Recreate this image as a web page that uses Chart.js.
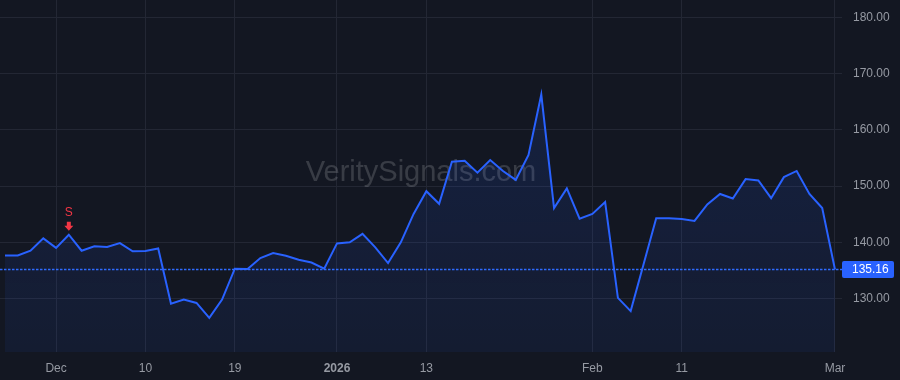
<!DOCTYPE html>
<html>
<head>
<meta charset="utf-8">
<script src="https://cdn.jsdelivr.net/npm/chart.js@4/dist/chart.umd.min.js"></script>
<style>
  html, body { margin: 0; padding: 0; background: #131722; }
  #wrap { width: 900px; height: 380px; position: relative; }
</style>
</head>
<body>
<div id="wrap"><canvas id="c"></canvas></div>
<script>
// Trading days (2025-11-24 .. 2026-03-02)
const dates = [
  '2025-11-24','2025-11-25','2025-11-26','2025-11-28',
  '2025-12-01','2025-12-02','2025-12-03','2025-12-04','2025-12-05','2025-12-08','2025-12-09','2025-12-10','2025-12-11','2025-12-12',
  '2025-12-15','2025-12-16','2025-12-17','2025-12-18','2025-12-19','2025-12-22','2025-12-23','2025-12-24','2025-12-26',
  '2025-12-29','2025-12-30','2025-12-31',
  '2026-01-02','2026-01-05','2026-01-06','2026-01-07','2026-01-08','2026-01-09','2026-01-12','2026-01-13','2026-01-14','2026-01-15','2026-01-16',
  '2026-01-20','2026-01-21','2026-01-22','2026-01-23','2026-01-26','2026-01-27','2026-01-28','2026-01-29','2026-01-30',
  '2026-02-02','2026-02-03','2026-02-04','2026-02-05','2026-02-06','2026-02-09','2026-02-10','2026-02-11','2026-02-12','2026-02-13',
  '2026-02-17','2026-02-18','2026-02-19','2026-02-20','2026-02-23','2026-02-24','2026-02-25','2026-02-26','2026-02-27',
  '2026-03-02'
];
const prices = [
  137.65,137.65,138.5,140.7,
  139.0,141.35,138.5,139.3,139.15,139.85,138.4,138.45,138.9,129.05,
  129.8,129.2,126.55,129.8,135.3,135.25,137.2,138.1,137.6,
  136.9,136.4,135.3,
  139.8,140.0,141.5,139.1,136.3,140.0,145.05,149.1,146.85,154.35,154.5,
  152.4,154.65,152.7,151.1,155.55,166.3,146.1,149.6,144.2,
  145.05,147.15,130.1,127.75,136.0,144.3,144.3,144.15,143.8,146.75,
  148.6,147.8,151.25,151.0,147.85,151.6,152.7,148.6,146.1,
  135.16
];
// x-axis tick labels (date -> label)
const xTickDates  = ['2025-12-01','2025-12-10','2025-12-19','2026-01-02','2026-01-13','2026-02-02','2026-02-11','2026-03-02'];
const xTickLabels = ['Dec','10','19','2026','13','Feb','11','Mar'];
const yTickValues = [130,140,150,160,170,180];
// signal markers
const signalDates  = ['2025-12-02'];
const signalLabels = ['S'];
const watermark = 'VeritySignals.com';

const points = prices.map((p, i) => ({ x: i, y: p }));
const tickIdx = xTickDates.map(d => dates.indexOf(d));
const lastPrice = prices[prices.length - 1];

const BLUE = '#2962ff';
const RED = '#f23645';
const GRID = '#232734';
const TXT = '#969aa3';

const overlay = {
  id: 'overlay',
  beforeDatasetsDraw(chart) {
    const { ctx, chartArea: a } = chart;
    ctx.save();
    ctx.font = '29px "Liberation Sans", Arial, sans-serif';
    ctx.fillStyle = 'rgba(255,255,255,0.16)';
    ctx.textAlign = 'center';
    ctx.textBaseline = 'alphabetic';
    ctx.fillText(watermark, (a.left + a.right) / 2, (a.top + a.bottom) / 2 + 5);
    ctx.restore();
  },
  afterDatasetsDraw(chart) {
    const { ctx, chartArea: a, scales } = chart;
    const y = Math.round(scales.y.getPixelForValue(lastPrice)) + 0.5;
    ctx.save();
    // price line
    ctx.strokeStyle = '#2f6bff';
    ctx.lineWidth = 1.3;
    ctx.setLineDash([2.5, 1.5]);
    ctx.beginPath();
    ctx.moveTo(a.left, y);
    ctx.lineTo(a.right, y);
    ctx.stroke();
    ctx.setLineDash([]);
    // price label
    const bx = a.right, bw = 52, bh = 17;
    ctx.fillStyle = BLUE;
    ctx.beginPath();
    if (ctx.roundRect) ctx.roundRect(bx, y - bh / 2, bw, bh, 2); else ctx.rect(bx, y - bh / 2, bw, bh);
    ctx.fill();
    ctx.fillStyle = '#ffffff';
    ctx.font = '12px "Liberation Sans", Arial, sans-serif';
    ctx.textAlign = 'left';
    ctx.textBaseline = 'middle';
    ctx.fillText(lastPrice.toFixed(2), bx + 10, y + 0.5);
    // signal markers
    signalDates.forEach((d, k) => {
      const i = dates.indexOf(d);
      const px = scales.x.getPixelForValue(i);
      const py = scales.y.getPixelForValue(prices[i]);
      ctx.fillStyle = RED;
      const tip = py - 4;
      ctx.beginPath();
      ctx.moveTo(px - 2, tip - 9);
      ctx.lineTo(px + 2, tip - 9);
      ctx.lineTo(px + 2, tip - 5);
      ctx.lineTo(px + 4.5, tip - 5);
      ctx.lineTo(px, tip);
      ctx.lineTo(px - 4.5, tip - 5);
      ctx.lineTo(px - 2, tip - 5);
      ctx.closePath();
      ctx.fill();
      ctx.font = '12px "Liberation Sans", Arial, sans-serif';
      ctx.textAlign = 'center';
      ctx.textBaseline = 'middle';
      ctx.fillText(signalLabels[k], px, tip - 18);
    });
    ctx.restore();
  }
};

new Chart(document.getElementById('c'), {
  type: 'line',
  data: {
    datasets: [{
      data: points,
      borderColor: BLUE,
      borderWidth: 2,
      pointRadius: 0,
      tension: 0,
      fill: 'start',
      backgroundColor: (c) => {
        const a = c.chart.chartArea;
        if (!a) return 'rgba(41,98,255,0.1)';
        const g = c.chart.ctx.createLinearGradient(0, a.top, 0, a.bottom);
        g.addColorStop(0, 'rgba(41,98,255,0.16)');
        g.addColorStop(1, 'rgba(41,98,255,0.07)');
        return g;
      }
    }]
  },
  options: {
    responsive: true,
    maintainAspectRatio: false,
    animation: false,
    layout: { padding: 0 },
    plugins: { legend: { display: false }, tooltip: { enabled: false } },
    scales: {
      x: {
        type: 'linear',
        min: -0.39,
        max: prices.length - 1 + 0.55,
        afterBuildTicks: (s) => { s.ticks = tickIdx.map(v => ({ value: v })); },
        afterFit: (s) => { s.height = 28; s.paddingLeft = 0; s.paddingRight = 0; },
        grid: { color: GRID, drawTicks: false, lineWidth: 1 },
        border: { display: false },
        ticks: {
          autoSkip: false,
          maxRotation: 0,
          padding: 9,
          color: TXT,
          font: (c) => ({ family: '"Liberation Sans", Arial, sans-serif', size: 12, weight: (c.tick && c.tick.label === '2026') ? 'bold' : 'normal' }),
          callback: (v) => { const k = tickIdx.indexOf(v); return k >= 0 ? xTickLabels[k] : ''; }
        }
      },
      y: {
        position: 'right',
        min: 120.47,
        max: 183.13,
        afterBuildTicks: (s) => { s.ticks = yTickValues.map(v => ({ value: v })); },
        afterFit: (s) => { s.width = 58; s.paddingTop = 0; s.paddingBottom = 0; },
        grid: { color: GRID, drawTicks: false, lineWidth: 1 },
        border: { display: false },
        ticks: {
          padding: 11,
          color: TXT,
          font: { family: '"Liberation Sans", Arial, sans-serif', size: 12 },
          callback: (v) => Number(v).toFixed(2)
        }
      }
    }
  },
  plugins: [overlay]
});
</script>
</body>
</html>
